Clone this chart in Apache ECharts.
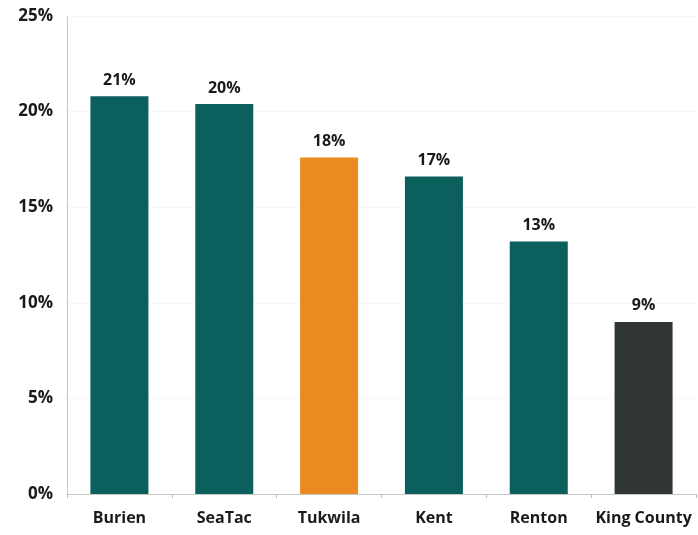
<!DOCTYPE html>
<html><head><meta charset="utf-8">
<script src="https://cdn.jsdelivr.net/npm/echarts@6/dist/echarts.min.js"></script>
<style>html,body{margin:0;padding:0;background:#fff}#c{width:698px;height:535px}</style>
</head><body><div id="c"></div>
<script>
const categories = ['Burien','SeaTac','Tukwila','Kent','Renton','King County'];
const values = [20.8, 20.4, 17.6, 16.6, 13.2, 9.0];
const labels = ['21%','20%','18%','17%','13%','9%'];
const colors = ['#0b5f5c','#0b5f5c','#ea8a1f','#0b5f5c','#0b5f5c','#2f3633'];
const chart = echarts.init(document.getElementById('c'));
const font = '"Open Sans", "Liberation Sans", sans-serif';
chart.setOption({
  animation:false,
  grid:{left:67,right:2,top:16,bottom:41},
  xAxis:{type:'category',data:categories,
    axisLine:{lineStyle:{color:'#c8c8c8',width:1}},
    axisTick:{show:true,length:4,lineStyle:{color:'#bbb'}},
    axisLabel:{interval:0,color:'#1a1a1a',fontFamily:font,fontWeight:'bold',fontSize:16,margin:16}},
  yAxis:{type:'value',min:0,max:25,interval:5,
    axisLine:{show:true,lineStyle:{color:'#bbb',type:'dotted'}},
    axisTick:{show:false},
    splitLine:{lineStyle:{color:'#f2f2f2',type:'dotted'}},
    axisLabel:{formatter:'{value}%',color:'#1a1a1a',fontFamily:font,fontWeight:'bold',fontSize:17,margin:14}},
  series:[{type:'bar',barWidth:58,
    data:values.map((v,i)=>({value:v,itemStyle:{color:colors[i]},label:{formatter:labels[i]}})),
    label:{show:true,position:'top',distance:8,color:'#1a1a1a',fontFamily:font,fontWeight:'bold',fontSize:16}}]
});
</script></body></html>
